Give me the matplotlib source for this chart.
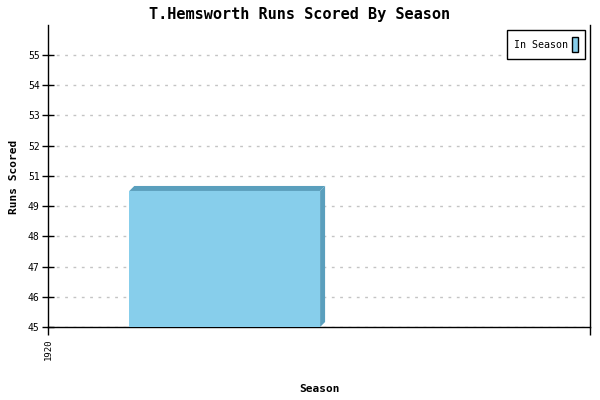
import numpy as np
import matplotlib
matplotlib.use('Agg')
import matplotlib.pyplot as plt
from matplotlib.patches import Polygon, Rectangle
from matplotlib.ticker import FuncFormatter

# data
seasons = [1920]
runs = [50]
series_name = 'In Season'

front_color = '#87ceeb'
side_color = '#5a9fbd'
plt.rcParams['font.family'] = ['DejaVu Sans Mono']

fig = plt.figure(figsize=(6, 4), dpi=100)
ax = fig.add_axes([48 / 600, 73 / 400, 542 / 600, 302 / 400])

ax.set_xlim(1920, 1921)
ax.set_ylim(45, 56.1)

# bars with a small 3d depth
bar_offset, bar_width = 0.15, 0.352
depth_px = 5
dx = depth_px / 542 * 1.0
dy = depth_px / 302 * 11.1
for s, r in zip(seasons, runs):
    x0 = s + bar_offset
    x1 = x0 + bar_width
    ax.bar(x0, r - 45, bottom=45, width=bar_width, align='edge',
           color=front_color, zorder=3)
    top = Polygon([[x0, r], [x0 + dx, r + dy], [x1 + dx, r + dy], [x1, r]],
                  closed=True, color=side_color, zorder=3, lw=0)
    side = Polygon([[x1, r], [x1 + dx, r + dy], [x1 + dx, 45 + dy], [x1, 45]],
                   closed=True, color=side_color, zorder=3, lw=0)
    ax.add_patch(top)
    ax.add_patch(side)

yticks = np.linspace(45, 55, 10)
ax.set_yticks(yticks)
ax.yaxis.set_major_formatter(FuncFormatter(lambda v, p: '%d' % round(v)))
ax.set_xticks([1920, 1921])
ax.set_xticklabels(['1920', ''], rotation=90)
ax.tick_params(axis='y', direction='inout', length=8, width=1, labelsize=7, pad=2)
ax.tick_params(axis='x', direction='out', length=6, width=1, labelsize=6.5, pad=2)

ax.grid(axis='y', color='#c4c4c4', linestyle=(0, (2, 4)), linewidth=1, zorder=0)
ax.spines['top'].set_visible(False)
for sp in ['left', 'bottom', 'right']:
    ax.spines[sp].set_linewidth(1)

fig.text(0.5, 1 - 14 / 400, 'T.Hemsworth Runs Scored By Season',
         ha='center', va='center', fontsize=11, fontweight='bold')
fig.text(14 / 600, 1 - 177 / 400, 'Runs Scored', rotation=90,
         ha='center', va='center', fontsize=8, fontweight='bold')
fig.text(319 / 600, 1 - 389 / 400, 'Season',
         ha='center', va='center', fontsize=8, fontweight='bold')

handle = Rectangle((0, 0), 1, 1, facecolor=front_color, edgecolor='black', lw=1)
leg = ax.legend([handle], [series_name], loc='upper right', fontsize=7.2,
                markerfirst=False, handlelength=0.6, handleheight=2.0,
                handletextpad=0.45, borderpad=0.7, borderaxespad=0,
                fancybox=False, framealpha=1, edgecolor='black',
                bbox_to_anchor=(537 / 542, 297 / 302))
leg.get_frame().set_linewidth(1)

fig.savefig('out.png', dpi=100)
